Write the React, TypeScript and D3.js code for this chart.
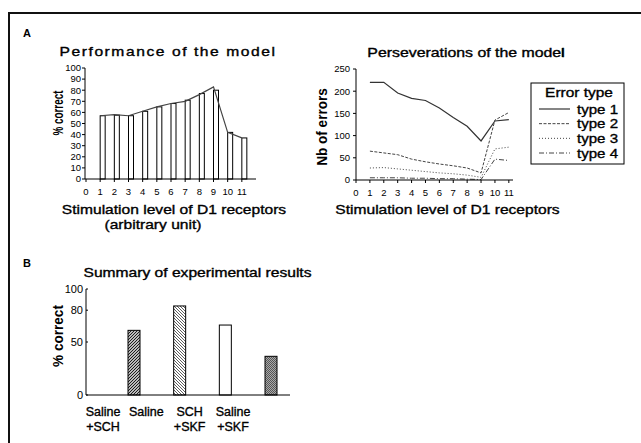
import React from "react";
import * as d3 from "d3";

// ---------- Data ----------
const levels = [1, 2, 3, 4, 5, 6, 7, 8, 9, 10, 11];
const xTicks = [0, 1, 2, 3, 4, 5, 6, 7, 8, 9, 10, 11];
const perfBars = [57, 57.5, 57, 61, 65, 68, 71, 77, 80, 42, 37];
const perfLine = [57, 58, 57, 61, 65, 68, 70, 76, 83, 42, 37];
const perfYTicks = [0, 10, 20, 30, 40, 50, 60, 70, 80, 90, 100];

const errType1 = [220, 220, 196, 184, 179, 162, 141, 121, 88, 133, 136];
const errType2 = [65, 61, 57, 47, 41, 36, 32, 27, 16, 135, 152];
const errType3 = [27, 28, 25, 22, 19, 16, 14, 11, 6, 70, 74];
const errType4 = [5, 5, 5, 4, 4, 3, 3, 2, 1, 47, 44];
const errNames = ["type 1", "type 2", "type 3", "type 4"];
const errYTicks = [0, 50, 100, 150, 200, 250];

const expLine1 = ["Saline", "Saline", "SCH", "Saline"];
const expLine2 = ["+SCH", "", "+SKF", "+SKF"];
const expValues = [61, 84, 66, 36.5];
const expYTicks = [0, 50, 80, 100];

const FONT = "'Liberation Sans', Arial, Helvetica, sans-serif";

type TP = {
  x: number; y: number; s: number; sx?: number; w?: any; a?: any; r?: number; ls?: number; dark?: boolean;
  children: React.ReactNode;
};
const T = ({ x, y, s, sx = 1, w = "normal", a = "middle", r = 0, ls = 0, dark = false, children }: TP) => (
  <text
    transform={`translate(${x},${y}) rotate(${r}) scale(${sx},1)`}
    fontSize={s}
    fontWeight={w}
    textAnchor={a}
    letterSpacing={ls}
    fill="#000"
    stroke={dark ? "#000" : "none"}
    strokeWidth={dark ? 0.35 : 0}
  >
    {children}
  </text>
);

export default function App() {
  // Panel A left
  const xA = d3.scaleLinear().domain([0, 12]).range([86, 256]);
  const yA = d3.scaleLinear().domain([0, 100]).range([179, 68]);
  const lineA = d3
    .line<number>()
    .x((_, i) => xA(levels[i]))
    .y((d) => yA(d));

  // Panel A right
  const xB = d3.scaleLinear().domain([0, 11.3]).range([356, 513]);
  const yB = d3.scaleLinear().domain([0, 250]).range([180, 69]);
  const lineB = d3
    .line<number>()
    .x((_, i) => xB(levels[i]))
    .y((d) => yB(d));
  const errSeries = [errType1, errType2, errType3, errType4];
  const dashes = ["", "3,1.5", "1,2", "5,2,1,2"];
  const strokes = ["#333", "#444", "#444", "#444"];

  // Panel B
  const yC = d3.scaleLinear().domain([0, 100]).range([395, 289]);
  const labelPoint = d3.scalePoint<number>().domain([0, 1, 2, 3]).range([103, 233]);
  const barPoint = d3.scalePoint<number>().domain([0, 1, 2, 3]).range([134, 271]);
  const barW = 12;
  const fills = ["url(#hatchA)", "url(#hatchB)", "#fff", "url(#stipple)"];

  const legendRows = d3.scaleLinear().domain([0, 3]).range([109, 153]);

  return (
    <svg
      width={641}
      height={443}
      style={{ position: "absolute", left: 0, top: 0, background: "#fff" }}
      fontFamily={FONT}
    >
      <defs>
        <pattern id="hatchA" patternUnits="userSpaceOnUse" width={3} height={3}>
          <rect width={3} height={3} fill="#fff" />
          <path d="M-1,1 L1,-1 M0,3 L3,0 M2,4 L4,2" stroke="#111" strokeWidth={1.1} />
        </pattern>
        <pattern id="hatchB" patternUnits="userSpaceOnUse" width={3} height={3}>
          <rect width={3} height={3} fill="#fff" />
          <path d="M-1,2 L1,4 M0,0 L3,3 M2,-1 L4,1" stroke="#333" strokeWidth={0.8} />
        </pattern>
        <pattern id="stipple" patternUnits="userSpaceOnUse" width={2} height={2}>
          <rect width={2} height={2} fill="#aaa" />
          <rect width={1} height={1} fill="#555" />
          <rect x={1} y={1} width={1} height={1} fill="#555" />
        </pattern>
      </defs>

      {/* frame */}
      <line x1={8} y1={13} x2={641} y2={13} stroke="#111" strokeWidth={2} />
      <line x1={9} y1={12} x2={9} y2={443} stroke="#111" strokeWidth={2} />
      <line x1={562.5} y1={48} x2={562.5} y2={57} stroke="#111" strokeWidth={1.5} />

      {/* ===== Panel A left ===== */}
      <T x={23} y={37} s={11} w="bold" a="start">A</T>
      <T x={168} y={56} s={12.5} sx={1.25} ls={1.25} dark>Performance of the model</T>

      {levels.map((lv, i) => (
        <rect
          key={"b" + lv}
          x={xA(lv)}
          y={yA(perfBars[i])}
          width={5}
          height={yA(0) - yA(perfBars[i])}
          fill="#fff"
          stroke="#000"
          strokeWidth={1}
        />
      ))}
      <path d={lineA(perfLine) || ""} fill="none" stroke="#444" strokeWidth={1.2} />

      <line x1={xA(0) - 1} y1={yA(0)} x2={xA(12)} y2={yA(0)} stroke="#000" />
      <line x1={xA(0) - 1} y1={yA(0)} x2={xA(0) - 1} y2={yA(100)} stroke="#000" />
      {perfYTicks.map((t) => (
        <g key={"ya" + t}>
          <line x1={xA(0) - 4} x2={xA(0) - 1} y1={yA(t)} y2={yA(t)} stroke="#000" />
          <T x={81} y={yA(t) + 3.3} s={9.5} a="end">{t}</T>
        </g>
      ))}
      {xTicks.map((t) => (
        <g key={"xa" + t}>
          <line x1={xA(t)} x2={xA(t)} y1={yA(0)} y2={yA(0) + 3} stroke="#000" />
          <T x={xA(t)} y={195} s={9.5}>{t}</T>
        </g>
      ))}
      <T x={63} y={113} s={14.5} sx={0.68} w="bold" r={-90}>% correct</T>
      <T x={174} y={214} s={13} sx={1.2} dark>Stimulation level of D1 receptors</T>
      <T x={153} y={229} s={13} sx={1.2} dark>(arbitrary unit)</T>

      {/* ===== Panel A right ===== */}
      <T x={466} y={57} s={12.5} sx={1.27} dark>Perseverations of the model</T>
      {errSeries.map((s, k) => (
        <path
          key={"err" + k}
          d={lineB(s) || ""}
          fill="none"
          stroke={strokes[k]}
          strokeWidth={k === 0 ? 1.2 : 1}
          strokeDasharray={dashes[k]}
        />
      ))}
      <line x1={xB(0)} y1={yB(0)} x2={xB(11.3)} y2={yB(0)} stroke="#000" />
      <line x1={xB(0)} y1={yB(0)} x2={xB(0)} y2={yB(250)} stroke="#000" />
      {errYTicks.map((t) => (
        <g key={"yb" + t}>
          <line x1={xB(0) - 3} x2={xB(0)} y1={yB(t)} y2={yB(t)} stroke="#000" />
          <T x={350} y={yB(t) + 3.3} s={9.5} a="end">{t}</T>
        </g>
      ))}
      {xTicks.map((t) => (
        <g key={"xb" + t}>
          <line x1={xB(t)} x2={xB(t)} y1={yB(0)} y2={yB(0) + 3} stroke="#000" />
          <T x={xB(t)} y={196} s={9.5}>{t}</T>
        </g>
      ))}
      <T x={327} y={127} s={14} sx={0.97} w="bold" r={-90}>Nb of errors</T>
      <T x={447.5} y={214} s={13} sx={1.2} dark>Stimulation level of D1 receptors</T>

      {/* legend */}
      <rect x={531} y={83} width={93} height={81} fill="#fff" stroke="#000" strokeWidth={1} />
      <T x={579} y={96.5} s={13} sx={1.19} dark>Error type</T>
      {errNames.map((n, k) => (
        <g key={"lg" + n}>
          <line
            x1={539}
            x2={570}
            y1={legendRows(k)}
            y2={legendRows(k)}
            stroke={strokes[k]}
            strokeWidth={k === 0 ? 1.2 : 1}
            strokeDasharray={dashes[k]}
          />
          <T x={577} y={legendRows(k) + 4.5} s={13} sx={1.16} a="start" dark>{n}</T>
        </g>
      ))}

      {/* ===== Panel B ===== */}
      <T x={23} y={267} s={11} w="bold" a="start">B</T>
      <T x={197.5} y={277} s={12.5} sx={1.25} dark>Summary of experimental results</T>
      {expValues.map((v, i) => (
        <rect
          key={"eb" + i}
          x={(barPoint(i) as number) - barW / 2}
          y={yC(v)}
          width={barW}
          height={yC(0) - yC(v)}
          fill={fills[i]}
          stroke="#000"
          strokeWidth={1}
        />
      ))}
      <line x1={86} y1={yC(0)} x2={290} y2={yC(0)} stroke="#000" />
      <line x1={86} y1={yC(0)} x2={86} y2={yC(100)} stroke="#000" />
      {expYTicks.map((t) => (
        <g key={"yc" + t}>
          <line x1={86} x2={88} y1={yC(t)} y2={yC(t)} stroke="#000" />
          <T x={83} y={yC(t) + 4} s={11} a="end">{t}</T>
        </g>
      ))}
      <T x={63} y={336} s={14} sx={0.97} w="bold" r={-90}>% correct</T>
      {expLine1.map((l, i) => (
        <g key={"lab" + i}>
          <T x={labelPoint(i) as number} y={416} s={12.5} dark>{l}</T>
          <T x={labelPoint(i) as number} y={431} s={12.5} dark>{expLine2[i]}</T>
        </g>
      ))}
    </svg>
  );
}
